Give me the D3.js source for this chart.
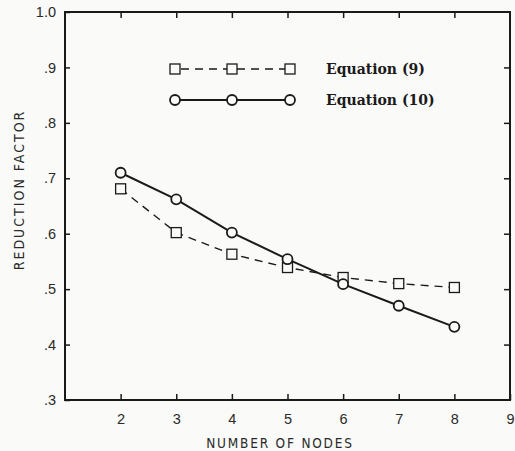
<!DOCTYPE html>
<html>
<head>
<meta charset="utf-8">
<script src="https://cdn.jsdelivr.net/npm/d3@7"></script>
<style>
  body { margin: 0; background: #fafaf8; }
  svg { display: block; }
  .tick text { font-family: "Liberation Sans", Arial, sans-serif; }
</style>
</head>
<body>
<div class="canvas"></div>
<script>
// data
const nodes = [2, 3, 4, 5, 6, 7, 8];
const eq9 = [0.681, 0.602, 0.563, 0.539, 0.521, 0.510, 0.503];
const eq10 = [0.710, 0.662, 0.602, 0.554, 0.509, 0.470, 0.432];
const xTicks = [2, 3, 4, 5, 6, 7, 8, 9];
const yTicks = [0.3, 0.4, 0.5, 0.6, 0.7, 0.8, 0.9, 1.0];
const yTickLabels = ['.3', '.4', '.5', '.6', '.7', '.8', '.9', '1.0'];

const svg = d3.select('.canvas')
    .append('svg')
        .attr('width', 515)
        .attr('height', 451);

const margin = {top: 12, right: 5, bottom: 51, left: 65};
const graphWidth = 515 - margin.left - margin.right;
const graphHeight = 451 - margin.top - margin.bottom;

const graph = svg.append('g')
    .attr('transform', `translate(${margin.left},${margin.top})`);

const x = d3.scaleLinear().domain([1, 9]).range([0, graphWidth]);
const y = d3.scaleLinear().domain([0.3, 1.0]).range([graphHeight, 0]);

const ink = '#1a1a1a';

// frame
graph.append('rect')
    .attr('width', graphWidth)
    .attr('height', graphHeight)
    .attr('fill', 'none')
    .attr('stroke', ink)
    .attr('stroke-width', 2);

// axes with inward ticks
const axBottom = graph.append('g')
    .attr('transform', `translate(0,${graphHeight})`)
    .call(d3.axisBottom(x).tickValues(xTicks).tickSize(-6).tickPadding(14).tickFormat(d3.format('d')));

const axTop = graph.append('g')
    .call(d3.axisTop(x).tickValues(xTicks.slice(0, -1)).tickSize(-6).tickFormat(''));

const axLeft = graph.append('g')
    .call(d3.axisLeft(y).tickValues(yTicks).tickSize(-5).tickPadding(9)
        .tickFormat((d, i) => yTickLabels[i]));

const axRight = graph.append('g')
    .attr('transform', `translate(${graphWidth},0)`)
    .call(d3.axisRight(y).tickValues(yTicks.slice(1, -1)).tickSize(-6).tickFormat(''));

[axBottom, axTop, axLeft, axRight].forEach(g => {
    g.select('.domain').remove();
    g.selectAll('line').attr('stroke', ink).attr('stroke-width', 1.5);
    g.selectAll('text').attr('fill', '#2a2a2a').attr('font-size', 14.5);
});

// axis titles
svg.append('text')
    .attr('x', 280)
    .attr('y', 448)
    .attr('text-anchor', 'middle')
    .attr('font-family', '"DejaVu Sans Condensed", "DejaVu Sans", sans-serif')
    .attr('font-size', 13.5)
    .attr('letter-spacing', 1.8)
    .attr('fill', '#2a2a2a')
    .text('NUMBER OF NODES');

svg.append('text')
    .attr('transform', 'translate(24,190) rotate(-90)')
    .attr('text-anchor', 'middle')
    .attr('font-family', '"DejaVu Sans Condensed", "DejaVu Sans", sans-serif')
    .attr('font-size', 14)
    .attr('letter-spacing', 2)
    .attr('fill', '#2a2a2a')
    .text('REDUCTION FACTOR');

// lines
const line = d3.line()
    .x((d, i) => x(nodes[i]))
    .y(d => y(d));

graph.append('path')
    .datum(eq9)
    .attr('d', line)
    .attr('fill', 'none')
    .attr('stroke', ink)
    .attr('stroke-width', 1.4)
    .attr('stroke-dasharray', '8,6');

graph.append('path')
    .datum(eq10)
    .attr('d', line)
    .attr('fill', 'none')
    .attr('stroke', ink)
    .attr('stroke-width', 2);

// markers
graph.selectAll('rect.sq')
    .data(eq9)
    .enter()
    .append('rect')
        .attr('class', 'sq')
        .attr('x', (d, i) => x(nodes[i]) - 5)
        .attr('y', d => y(d) - 5)
        .attr('width', 10)
        .attr('height', 10)
        .attr('fill', '#fafaf8')
        .attr('stroke', ink)
        .attr('stroke-width', 1.3);

graph.selectAll('circle.ci')
    .data(eq10)
    .enter()
    .append('circle')
        .attr('class', 'ci')
        .attr('cx', (d, i) => x(nodes[i]))
        .attr('cy', d => y(d))
        .attr('r', 5)
        .attr('fill', '#fafaf8')
        .attr('stroke', ink)
        .attr('stroke-width', 1.8);

// legend
const legend = svg.append('g');
const lx = [175, 232, 290];

legend.append('line')
    .attr('x1', lx[0]).attr('x2', lx[2])
    .attr('y1', 69).attr('y2', 69)
    .attr('stroke', ink).attr('stroke-width', 1.4)
    .attr('stroke-dasharray', '8,6').attr('stroke-dashoffset', -6);

legend.selectAll('rect')
    .data(lx)
    .enter()
    .append('rect')
        .attr('x', d => d - 5).attr('y', 64)
        .attr('width', 10).attr('height', 10)
        .attr('fill', '#fafaf8').attr('stroke', ink).attr('stroke-width', 1.3);

legend.append('line')
    .attr('x1', lx[0]).attr('x2', lx[2])
    .attr('y1', 100).attr('y2', 100)
    .attr('stroke', ink).attr('stroke-width', 2);

legend.selectAll('circle')
    .data(lx)
    .enter()
    .append('circle')
        .attr('cx', d => d).attr('cy', 100).attr('r', 5)
        .attr('fill', '#fafaf8').attr('stroke', ink).attr('stroke-width', 1.8);

legend.selectAll('text')
    .data(['Equation (9)', 'Equation (10)'])
    .enter()
    .append('text')
        .attr('x', 326)
        .attr('y', (d, i) => 74 + i * 31)
        .attr('font-family', '"DejaVu Serif", serif')
        .attr('font-weight', 'bold')
        .attr('font-size', 14)
        .attr('fill', ink)
        .text(d => d);
</script>
</body>
</html>
